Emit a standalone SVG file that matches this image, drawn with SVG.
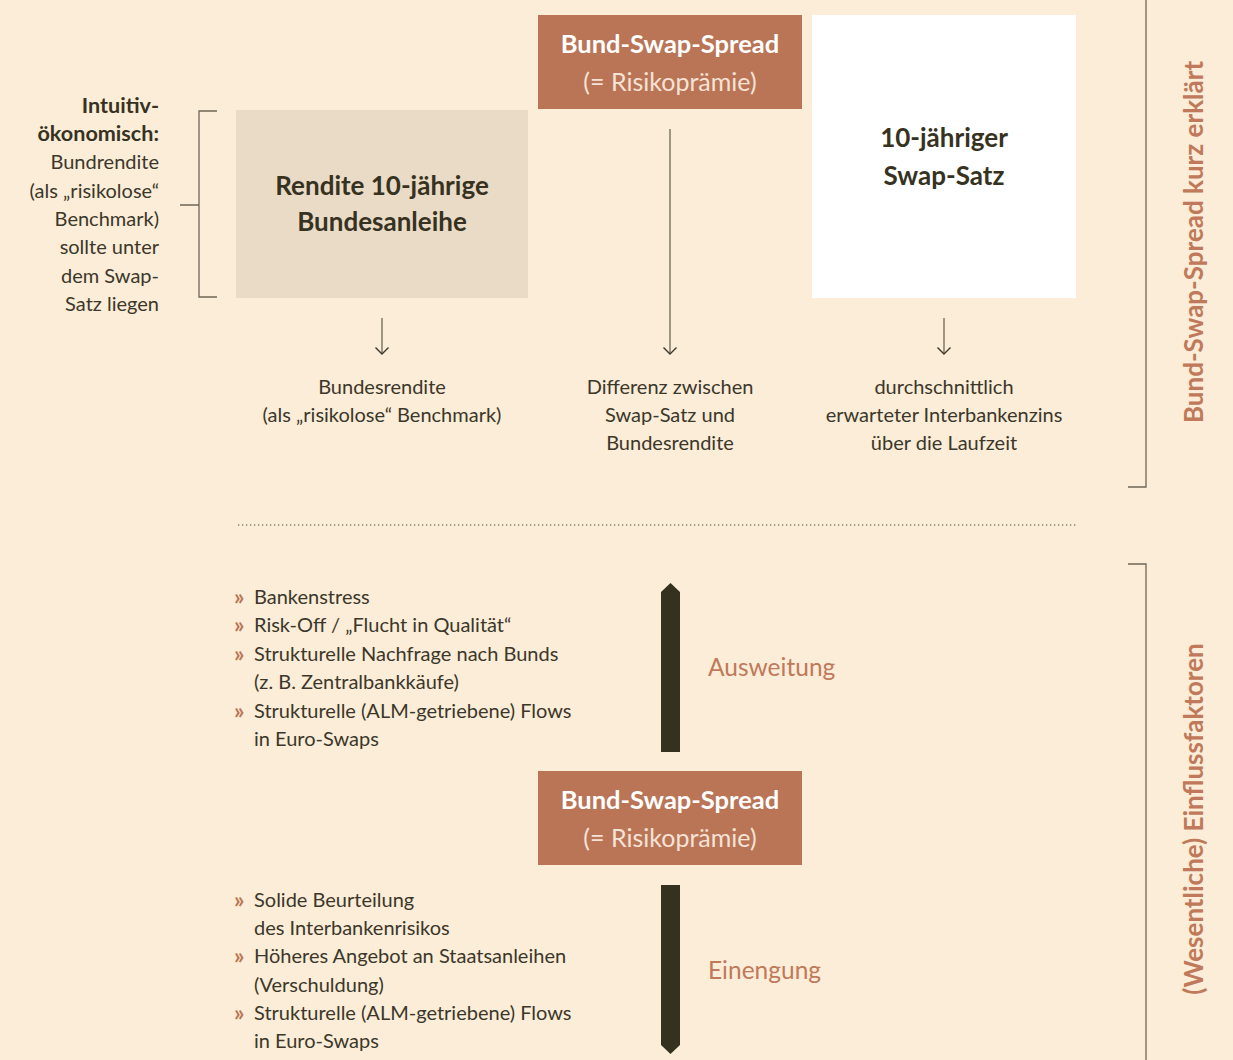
<svg xmlns="http://www.w3.org/2000/svg" width="1233" height="1060" viewBox="0 0 1233 1060">
<defs>
<style>
.t{font-family:Lato,"Open Sans",sans-serif;font-size:20px;fill:#3B372A}
.b{font-family:Lato,"Open Sans",sans-serif;font-weight:bold;fill:#36321F}
.wb{font-family:Lato,"Open Sans",sans-serif;font-weight:bold;font-size:25.5px;fill:#FFFFFF}
.wl{font-family:Lato,"Open Sans",sans-serif;font-size:25px;fill:#F6E3D6}
.acc{font-family:Lato,"Open Sans",sans-serif;font-size:24.5px;fill:#C0795A}
.side{font-family:Lato,"Open Sans",sans-serif;font-weight:bold;font-size:26px;fill:#C0795A}
.bul{font-family:Lato,"Open Sans",sans-serif;font-size:23px;font-weight:bold;fill:#B97556}
.ln{stroke:#6E6656;stroke-width:1.3;fill:none}
.ah{stroke:#3B372A;stroke-width:1.4;fill:none}
</style>
</defs>
<rect width="1233" height="1060" fill="#FCEDD8"/>

<g id="node-rendite">
<rect x="236" y="110" width="292" height="188" fill="#E9DBC6"/>
<text class="b" font-size="26" x="382" y="195" text-anchor="middle">Rendite 10-jährige</text>
<text class="b" font-size="26" x="382" y="231" text-anchor="middle">Bundesanleihe</text>
</g>

<g id="node-spread-top">
<rect x="538" y="15" width="264" height="94" fill="#B97556"/>
<text class="wb" x="670" y="53" text-anchor="middle">Bund-Swap-Spread</text>
<text class="wl" x="670" y="91" text-anchor="middle">(= Risikoprämie)</text>
</g>

<g id="node-swap">
<rect x="812" y="15" width="264" height="283" fill="#FFFFFF"/>
<text class="b" font-size="26" x="944" y="147" text-anchor="middle">10-jähriger</text>
<text class="b" font-size="26" x="944" y="185" text-anchor="middle">Swap-Satz</text>
</g>

<g id="label-left">
<text class="b" font-size="21.6" x="159" y="113" text-anchor="end">Intuitiv-</text>
<text class="b" font-size="21.6" x="159" y="141" text-anchor="end">ökonomisch:</text>
<text class="t" x="159" y="169" text-anchor="end">Bundrendite</text>
<text class="t" x="159" y="198" text-anchor="end">(als „risikolose“</text>
<text class="t" x="159" y="226" text-anchor="end">Benchmark)</text>
<text class="t" x="159" y="254" text-anchor="end">sollte unter</text>
<text class="t" x="159" y="283" text-anchor="end">dem Swap-</text>
<text class="t" x="159" y="311" text-anchor="end">Satz liegen</text>
</g>

<g id="desc-rendite">
<text class="t" x="382" y="394" text-anchor="middle">Bundesrendite</text>
<text class="t" x="382" y="422" text-anchor="middle">(als „risikolose“ Benchmark)</text>
</g>
<g id="desc-spread">
<text class="t" x="670" y="394" text-anchor="middle">Differenz zwischen</text>
<text class="t" x="670" y="422" text-anchor="middle">Swap-Satz und</text>
<text class="t" x="670" y="450" text-anchor="middle">Bundesrendite</text>
</g>
<g id="desc-swap">
<text class="t" x="944" y="394" text-anchor="middle">durchschnittlich</text>
<text class="t" x="944" y="422" text-anchor="middle">erwarteter Interbankenzins</text>
<text class="t" x="944" y="450" text-anchor="middle">über die Laufzeit</text>
</g>

<g id="side-labels">
<text class="side" transform="translate(1203,242) rotate(-90)" text-anchor="middle">Bund-Swap-Spread kurz erklärt</text>
<text class="side" transform="translate(1203,819) rotate(-90)" text-anchor="middle">(Wesentliche) Einflussfaktoren</text>
</g>

<g id="list-widening">
<text class="bul" x="234" y="605">»</text>
<text class="t" x="254" y="604">Bankenstress</text>
<text class="bul" x="234" y="633">»</text>
<text class="t" x="254" y="632">Risk-Off / „Flucht in Qualität“</text>
<text class="bul" x="234" y="662">»</text>
<text class="t" x="254" y="661">Strukturelle Nachfrage nach Bunds</text>
<text class="t" x="254" y="689">(z. B. Zentralbankkäufe)</text>
<text class="bul" x="234" y="719">»</text>
<text class="t" x="254" y="718">Strukturelle (ALM-getriebene) Flows</text>
<text class="t" x="254" y="746">in Euro-Swaps</text>
</g>

<g id="label-ausweitung">
<text class="acc" x="708" y="676">Ausweitung</text>
</g>

<g id="node-spread-bottom">
<rect x="538" y="771" width="264" height="94" fill="#B97556"/>
<text class="wb" x="670" y="809" text-anchor="middle">Bund-Swap-Spread</text>
<text class="wl" x="670" y="847" text-anchor="middle">(= Risikoprämie)</text>
</g>

<g id="list-narrowing">
<text class="bul" x="234" y="908">»</text>
<text class="t" x="254" y="907">Solide Beurteilung</text>
<text class="t" x="254" y="935">des Interbankenrisikos</text>
<text class="bul" x="234" y="964">»</text>
<text class="t" x="254" y="963">Höheres Angebot an Staatsanleihen</text>
<text class="t" x="254" y="992">(Verschuldung)</text>
<text class="bul" x="234" y="1021">»</text>
<text class="t" x="254" y="1020">Strukturelle (ALM-getriebene) Flows</text>
<text class="t" x="254" y="1048">in Euro-Swaps</text>
</g>

<g id="label-einengung">
<text class="acc" x="708" y="979">Einengung</text>
</g>

<g id="connectors">
<line class="ln" x1="382" y1="318" x2="382" y2="354"/>
<path class="ah" d="M375.5,347.5 L382,354 L388.5,347.5"/>
<line class="ln" x1="670" y1="129" x2="670" y2="354"/>
<path class="ah" d="M663.5,347.5 L670,354 L676.5,347.5"/>
<line class="ln" x1="944" y1="318" x2="944" y2="354"/>
<path class="ah" d="M937.5,347.5 L944,354 L950.5,347.5"/>
<path class="ln" d="M217,111 H199 V297 H217 M180,205 H199"/>
<path class="ln" d="M1146,0 V487 H1128"/>
<path class="ln" d="M1128,564 H1146 V1060"/>
<line x1="238" y1="525" x2="1078" y2="525" stroke="#8A806C" stroke-width="1.3" stroke-dasharray="1.3 2.7"/>
<path d="M661,592 L670.5,583 L680,592 V752 H661 Z" fill="#35311F"/>
<path d="M661,885 H680 V1045 L670.5,1054 L661,1045 Z" fill="#35311F"/>
</g>
</svg>
